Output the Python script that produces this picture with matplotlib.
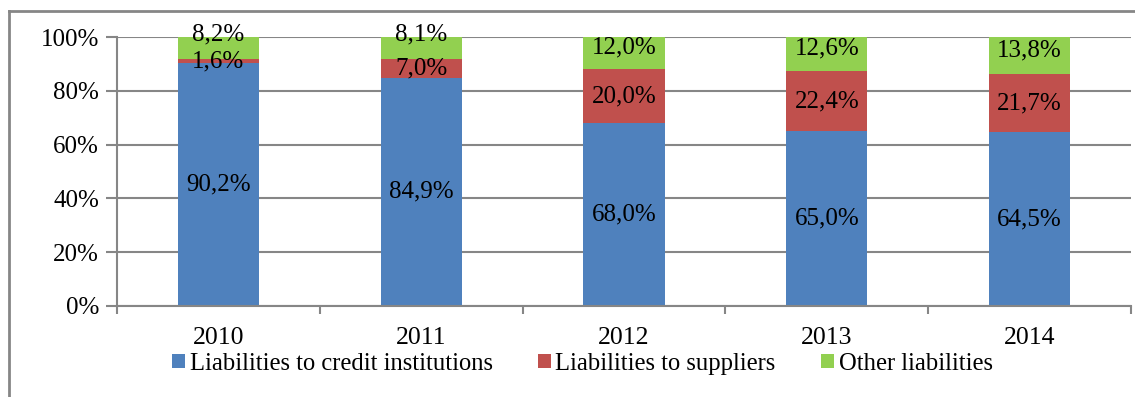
import numpy as np
import matplotlib.pyplot as plt
from matplotlib.patches import Patch
from matplotlib.lines import Line2D

years = ['2010', '2011', '2012', '2013', '2014']
credit = [90.2, 84.9, 68.0, 65.0, 64.5]
suppliers = [1.6, 7.0, 20.0, 22.4, 21.7]
other = [8.2, 8.1, 12.0, 12.6, 13.8]
series_names = ['Liabilities to credit institutions', 'Liabilities to suppliers', 'Other liabilities']
colors = ['#4F81BD', '#C0504D', '#92D050']
grey = '#868686'

plt.rcParams['font.family'] = ['Liberation Serif', 'DejaVu Serif']
fs = 18

fig = plt.figure(figsize=(11.35, 3.97), dpi=100)
ax = fig.add_axes([117 / 1135, 1 - 306 / 397, (1131 - 117) / 1135, (306 - 37) / 397])

x = np.arange(len(years))
bottom = np.zeros(len(years))
for vals, col in zip([credit, suppliers, other], colors):
    vals = np.array(vals)
    ax.bar(x, vals, 0.4, bottom=bottom, color=col, zorder=2)
    for xi, b, v in zip(x, bottom, vals):
        txt = ('%.1f%%' % v).replace('.', ',')
        dy = 0
        # top segment labels sit a little high; small ones pushed clear of the one below
        if col == colors[2]:
            dy = 10 if v < 10 else 4
        ax.annotate(txt, (xi, b + v / 2), xytext=(0, dy), textcoords='offset points',
                    ha='center', va='center', fontsize=fs, zorder=3)
    bottom = bottom + vals

ax.set_xlim(-0.5, 4.5)
ax.set_ylim(0, 100)
ax.set_yticks(np.arange(0, 101, 20))
ax.set_yticklabels(['%d%%' % t for t in range(0, 101, 20)], fontsize=fs)
ax.set_xticks(np.arange(-0.5, 4.6, 1))
ax.set_xticklabels([])
ax.set_xticks(x, minor=True)
ax.set_xticklabels(years, minor=True, fontsize=18.5)
ax.tick_params(axis='x', which='major', length=6, width=1.5, color=grey, direction='out')
ax.tick_params(axis='x', which='minor', length=0, pad=15)
ax.tick_params(axis='y', length=8, width=1.5, color=grey, direction='out', pad=5)
ax.grid(axis='y', color=grey, linewidth=1.5, zorder=0)
ax.set_axisbelow(True)
for s in ['top', 'right']:
    ax.spines[s].set_visible(False)
for s in ['left', 'bottom']:
    ax.spines[s].set_color(grey)
    ax.spines[s].set_linewidth(1.5)

handles = [Patch(facecolor=c, edgecolor='none') for c in colors]
fig.legend(handles, series_names, loc='center', bbox_to_anchor=(0.513, 1 - 364 / 397), ncol=3,
           frameon=False, fontsize=17.7, handlelength=0.52, handleheight=0.5, handletextpad=0.2,
           columnspacing=1.84, borderpad=0)

# outer chart frame (left and top edges)
fig.add_artist(Line2D([9 / 1135, 9 / 1135], [0, 1 - 11 / 397], color=grey, linewidth=2,
                      transform=fig.transFigure))
fig.add_artist(Line2D([9 / 1135, 1], [1 - 11 / 397, 1 - 11 / 397], color=grey, linewidth=2,
                      transform=fig.transFigure))

fig.savefig('out.png', dpi=100)
